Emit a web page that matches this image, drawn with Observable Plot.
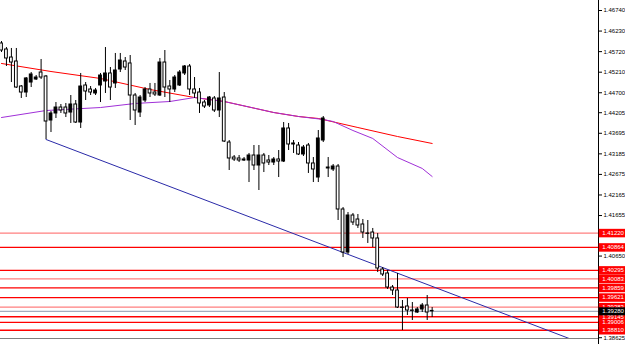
<!DOCTYPE html>
<html><head><meta charset="utf-8">
<script src="https://cdn.jsdelivr.net/npm/d3@7"></script>
<script src="https://cdn.jsdelivr.net/npm/@observablehq/plot@0.6"></script>
<style>html,body{margin:0;padding:0;background:#fff;overflow:hidden}</style>
</head><body><div id="chart"></div>
<script>
const opens = [1.45922,1.45773,1.45574,1.45475,1.44855,1.44706,1.44954,1.45029,1.45202,1.45103,
1.44012,1.44186,1.44334,1.44334,1.44210,1.44409,1.43962,1.44880,1.44781,1.44682,
1.44880,1.44979,1.45178,1.44930,1.45277,1.45475,1.45426,1.44632,1.44210,1.44508,
1.44781,1.44706,1.44632,1.45450,1.44855,1.44781,1.44880,1.45178,1.45351,1.44781,
1.44706,1.44458,1.44384,1.44558,1.44260,1.44582,1.43466,1.43094,1.43070,1.43045,
1.43020,1.43144,1.42896,1.43144,1.43020,1.42970,1.43045,1.42995,1.43814,1.43442,
1.43392,1.43169,1.43392,1.42946,1.42598,1.43516,1.42846,1.42797,1.42871,1.41805,
1.40738,1.41656,1.41557,1.41433,1.41210,1.41234,1.41086,1.40317,1.40218,1.39870,
1.39796,1.39374,1.39399,1.39300,1.39250,1.39325,1.39424,1.39290];
const highs = [1.45971,1.45822,1.45798,1.45798,1.44880,1.45078,1.45202,1.45128,1.45525,1.45128,
1.44235,1.44458,1.44409,1.44434,1.44632,1.44508,1.45178,1.44954,1.44855,1.44806,
1.45178,1.45822,1.45326,1.45674,1.45674,1.45574,1.45624,1.44682,1.44632,1.44830,
1.44930,1.44930,1.45550,1.45748,1.45004,1.45128,1.45252,1.45376,1.45401,1.45078,
1.44806,1.44508,1.44607,1.44607,1.45202,1.44706,1.43516,1.43144,1.43144,1.43094,
1.43194,1.43392,1.43392,1.43194,1.43144,1.43094,1.43268,1.43962,1.43938,1.43516,
1.43466,1.43392,1.43442,1.43094,1.43764,1.44111,1.43094,1.42921,1.42921,1.41854,
1.41730,1.41706,1.41681,1.41557,1.41532,1.41334,1.41210,1.40366,1.40292,1.39920,
1.40218,1.39548,1.39598,1.39498,1.39374,1.39474,1.39672,1.39374];
const lows = [1.45698,1.45351,1.44954,1.44806,1.44558,1.44582,1.44830,1.45004,1.45029,1.43541,
1.43714,1.44062,1.44186,1.44086,1.43938,1.43938,1.43814,1.44508,1.44632,1.44632,
1.44458,1.44682,1.44508,1.44806,1.45202,1.45252,1.44012,1.43888,1.44086,1.44458,
1.44582,1.44607,1.44607,1.44582,1.44458,1.44706,1.44855,1.45128,1.44632,1.44558,
1.44186,1.44310,1.44334,1.44210,1.44086,1.43466,1.42772,1.42995,1.42970,1.42995,
1.42474,1.42772,1.42276,1.42722,1.42896,1.42896,1.42598,1.42970,1.43268,1.43194,
1.43144,1.43119,1.42698,1.42474,1.42474,1.43466,1.42598,1.42747,1.41532,1.40614,
1.40689,1.41408,1.41334,1.41086,1.40962,1.40862,1.40242,1.40143,1.39821,1.39672,
1.39350,1.38804,1.39176,1.39052,1.39226,1.39250,1.39052,1.39126];
const closes = [1.45748,1.45550,1.45450,1.44830,1.44706,1.45054,1.45153,1.45078,1.45078,1.43987,
1.44186,1.44334,1.44260,1.44186,1.44409,1.43962,1.44855,1.44731,1.44706,1.44756,
1.45128,1.45178,1.44830,1.45252,1.45500,1.45326,1.44632,1.44260,1.44582,1.44781,
1.44682,1.44657,1.45450,1.44830,1.44781,1.45078,1.45202,1.45351,1.44781,1.44682,
1.44434,1.44359,1.44582,1.44260,1.44558,1.43491,1.43070,1.43045,1.43020,1.43020,
1.43144,1.42896,1.43144,1.42946,1.42970,1.43045,1.42995,1.43814,1.43417,1.43417,
1.43169,1.43342,1.42946,1.42797,1.43566,1.44062,1.42822,1.42871,1.41805,1.40738,
1.41656,1.41482,1.41408,1.41234,1.41200,1.41086,1.40342,1.40193,1.39870,1.39796,
1.39374,1.39364,1.39300,1.39290,1.39325,1.39424,1.39250,1.39280];

const redIdx = [0,10,20,30,39,45,55,60,64,72,80,87];
const redMA = [1.45426,1.45227,1.45054,1.44781,1.44582,1.44483,1.44210,1.44111,1.44062,1.43838,1.43615,1.43442];
const purpleIdx = [0,9,20,27,34,39,45,55,60,65,67,71,75,80,85,87];
const purpleMA = [1.44086,1.44260,1.44334,1.44434,1.44483,1.44582,1.44483,1.44210,1.44111,1.44037,1.43987,1.43764,1.43566,1.43094,1.42822,1.42623];
const trendIdx = [9,115];
const trendVal = [1.43541,1.38591];

const levels = [1.41220,1.40864,1.40295,1.40083,1.39859,1.39621,1.39383,1.39145,1.39006,1.38810];
const faintLevels = [1.41220,1.40083,1.39383];
const bid = 1.39280;
const axisTicks = [1.46740,1.46230,1.45720,1.45210,1.44700,1.44205,1.43695,1.43185,1.42675,1.42165,1.41655,1.40650,1.38625];

const candles = opens.map((o,i)=>({i, open:o, high:highs[i], low:lows[i], close:closes[i]}));
const red = redIdx.map((i,k)=>({i, v:redMA[k]}));
const purple = purpleIdx.map((i,k)=>({i, v:purpleMA[k]}));
const trend = trendIdx.map((i,k)=>({i, v:trendVal[k]}));
const fmt = d => d.toFixed(5);
const X0 = -0.202, X1 = 120.606, Y0 = 1.386056, Y1 = 1.46988;

const chart = Plot.plot({
  width: 625, height: 344,
  marginLeft: 0, marginRight: 27, marginTop: 0, marginBottom: 6,
  x: {domain: [X0, X1], axis: null},
  y: {domain: [Y0, Y1], axis: null},
  style: {fontFamily: "'Liberation Sans', Arial, sans-serif", fontSize: "6px", background: "#fff"},
  marks: [
    Plot.ruleY(levels.filter(v => !faintLevels.includes(v)), {x1: X0, x2: X1, stroke: "#ff0000", strokeWidth: 1.3}),
    Plot.ruleY(faintLevels, {x1: X0, x2: X1, stroke: "#ff0000", strokeOpacity: 0.5, strokeWidth: 1.3}),
    Plot.ruleY([bid], {x1: X0, x2: X1, stroke: "#a3adbf", strokeWidth: 1.2}),
    Plot.line(trend, {x: "i", y: "v", stroke: "#2a2aa8", strokeWidth: 1, clip: true}),
    Plot.line(red, {x: "i", y: "v", stroke: "#ff0000", strokeWidth: 1}),
    Plot.line(purple, {x: "i", y: "v", stroke: "#a030d8", strokeWidth: 1}),
    Plot.ruleX(candles, {x: "i", y1: "low", y2: "high", stroke: "#000"}),
    Plot.rect(candles, {filter: d => d.close > d.open, x1: d => d.i - 0.28, x2: d => d.i + 0.28, y1: "open", y2: "close", fill: "#000", stroke: "#000"}),
    Plot.rect(candles, {filter: d => d.close <= d.open, x1: d => d.i - 0.28, x2: d => d.i + 0.28, y1: "open", y2: "close", fill: "#fff", stroke: "#000"}),
    Plot.ruleY([Y0], {x1: X0, x2: X1, stroke: "#808080"}),
    Plot.ruleX([X1], {y1: 1.3845, y2: Y1, stroke: "#000"}),
    Plot.axisY(axisTicks, {anchor: "right", tickSize: 3, tickPadding: 2, tickFormat: fmt, fontSize: 6}),
    Plot.ruleY(levels, {x1: 120.75, x2: 127, stroke: "#ff0000", strokeWidth: 8.5}),
    Plot.text(levels, {x: 120.75, y: d => d, text: fmt, dx: 3, textAnchor: "start", fill: "#fff", fontSize: 6}),
    Plot.ruleY([bid], {x1: 120.75, x2: 127, stroke: "#000", strokeWidth: 8}),
    Plot.text([bid], {x: 120.75, y: d => d, text: fmt, dx: 3, textAnchor: "start", fill: "#fff", fontSize: 6})
  ]
});
document.getElementById("chart").appendChild(chart);
</script>
</body></html>
